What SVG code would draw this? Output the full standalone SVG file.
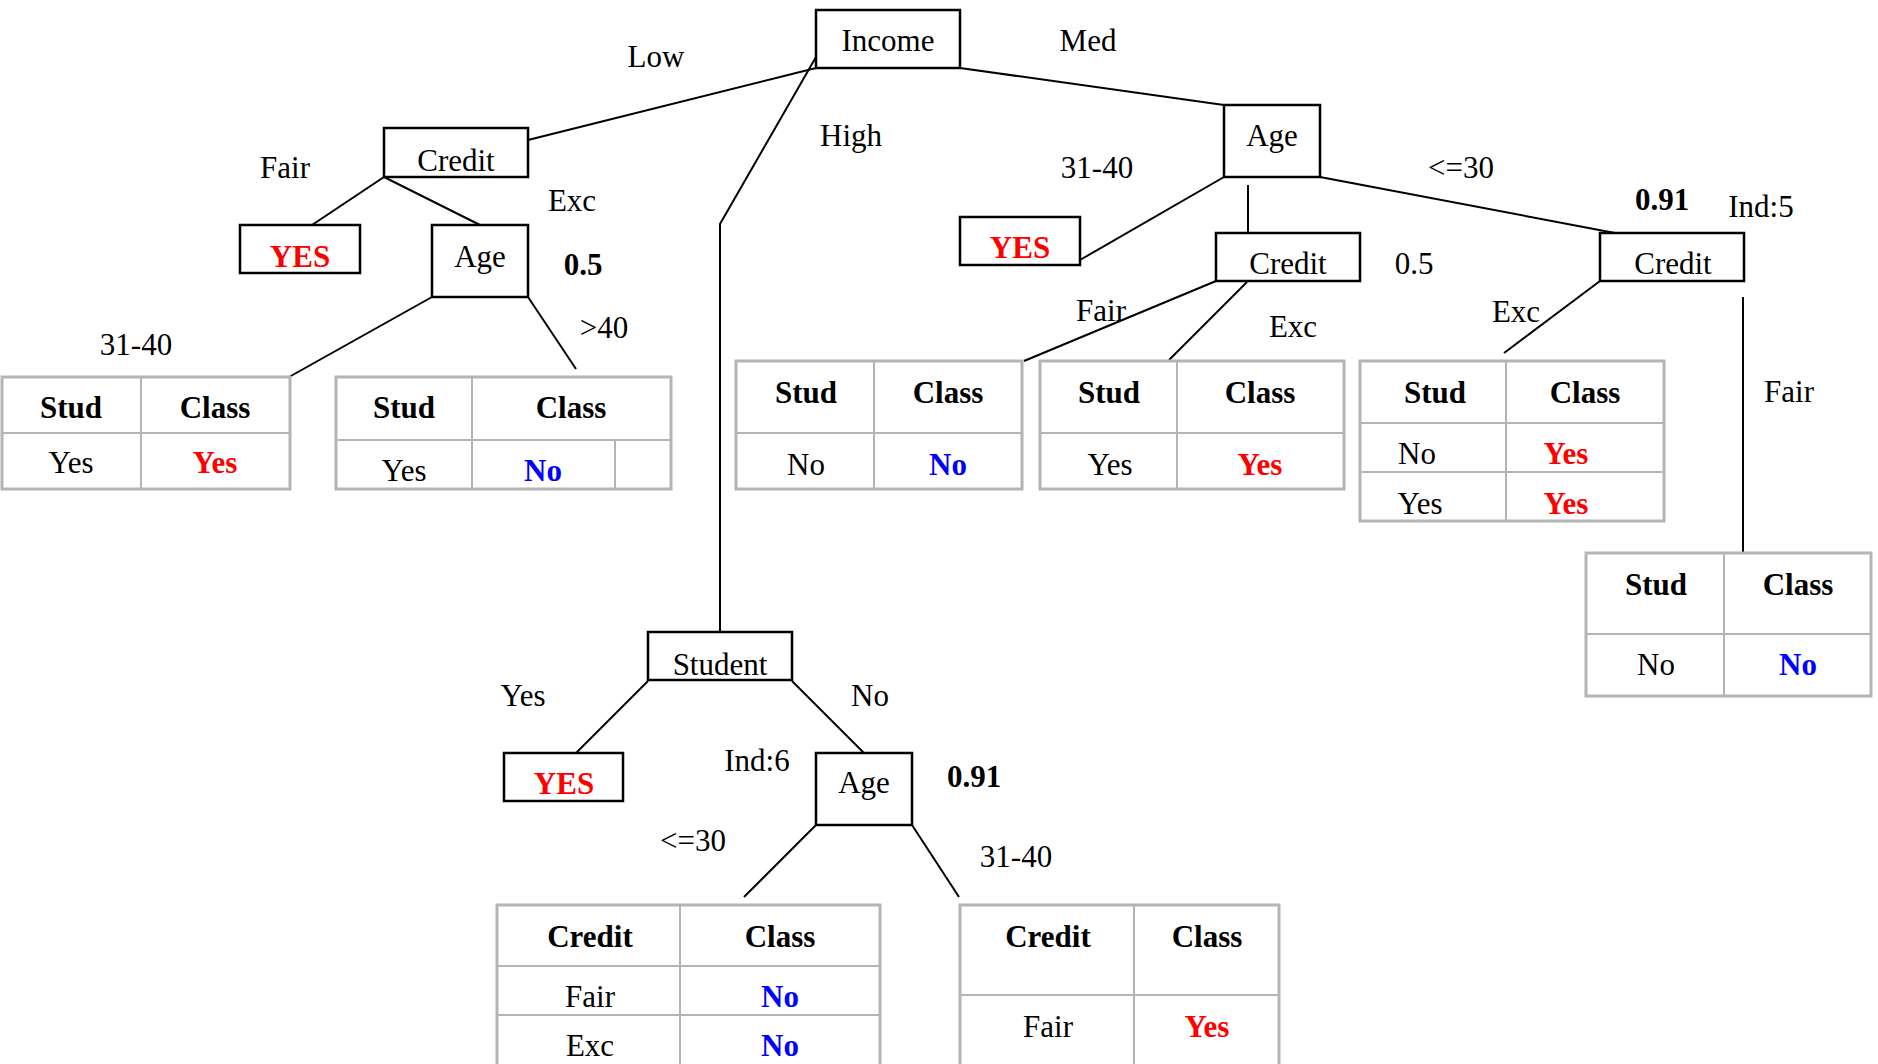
<svg xmlns="http://www.w3.org/2000/svg" width="1878" height="1064" viewBox="0 0 1878 1064">
<style>
text{font-family:"Liberation Serif","Times New Roman",serif;font-size:31px;fill:#000;text-anchor:middle}
.b{font-weight:bold}
.r{fill:#ff0000;font-weight:bold}
.u{fill:#0000ff;font-weight:bold}
.box{fill:#fff;stroke:#000;stroke-width:2.5}
.tb{fill:#fff;stroke:#b4b4b4;stroke-width:3}
.tl{stroke:#b4b4b4;stroke-width:2;fill:none}
.c{stroke:#000;stroke-width:2;fill:none}
</style>
<rect width="1878" height="1064" fill="#fff"/>
<g id="connectors">
<line class="c" x1="528" y1="140" x2="816" y2="68"/>
<polyline class="c" points="816,57 720,224 720,632"/>
<line class="c" x1="960" y1="68" x2="1224" y2="105"/>
<line class="c" x1="384" y1="177" x2="312" y2="225"/>
<line class="c" x1="384" y1="177" x2="480" y2="225"/>
<line class="c" x1="432" y1="297" x2="289" y2="377"/>
<line class="c" x1="528" y1="297" x2="576" y2="369"/>
<line class="c" x1="1224" y1="177" x2="1080" y2="260"/>
<line class="c" x1="1248" y1="185" x2="1248" y2="233"/>
<line class="c" x1="1320" y1="177" x2="1615" y2="233"/>
<line class="c" x1="1216" y1="281" x2="1024" y2="361"/>
<line class="c" x1="1247" y1="282" x2="1169" y2="360"/>
<line class="c" x1="1600" y1="281" x2="1504" y2="353"/>
<line class="c" x1="1743" y1="297" x2="1743" y2="553"/>
<line class="c" x1="648" y1="681" x2="576" y2="753"/>
<line class="c" x1="792" y1="681" x2="864" y2="753"/>
<line class="c" x1="816" y1="825" x2="744" y2="897"/>
<line class="c" x1="912" y1="825" x2="959" y2="897"/>
</g>
<g id="edge-labels">
<text x="656" y="67">Low</text>
<text x="1088" y="51">Med</text>
<text x="851" y="146">High</text>
<text x="285" y="178">Fair</text>
<text x="572" y="211">Exc</text>
<text class="b" x="583" y="275">0.5</text>
<text x="604" y="338">&gt;40</text>
<text x="136" y="355">31-40</text>
<text x="1097" y="178">31-40</text>
<text x="1461" y="178">&lt;=30</text>
<text class="b" x="1662" y="210">0.91</text>
<text x="1761" y="217">Ind:5</text>
<text x="1414" y="274">0.5</text>
<text x="1101" y="321">Fair</text>
<text x="1293" y="337">Exc</text>
<text x="1516" y="322">Exc</text>
<text x="1789" y="402">Fair</text>
<text x="523" y="706">Yes</text>
<text x="870" y="706">No</text>
<text x="757" y="771">Ind:6</text>
<text class="b" x="974" y="787">0.91</text>
<text x="693" y="851">&lt;=30</text>
<text x="1016" y="867">31-40</text>
</g>
<g id="income"><rect class="box" x="816" y="10" width="144" height="58"/><text x="888" y="51">Income</text></g>
<g id="credit-low"><rect class="box" x="384" y="128" width="144" height="49"/><text x="456" y="171">Credit</text></g>
<g id="yes-low"><rect class="box" x="240" y="225" width="120" height="48"/><text class="r" x="300" y="267">YES</text></g>
<g id="age-low"><rect class="box" x="432" y="225" width="96" height="72"/><text x="480" y="267">Age</text></g>
<g id="age-med"><rect class="box" x="1224" y="105" width="96" height="72"/><text x="1272" y="146">Age</text></g>
<g id="yes-med"><rect class="box" x="960" y="217" width="120" height="48"/><text class="r" x="1020" y="258">YES</text></g>
<g id="credit-med"><rect class="box" x="1216" y="233" width="144" height="48"/><text x="1288" y="274">Credit</text></g>
<g id="credit-med2"><rect class="box" x="1600" y="233" width="144" height="48"/><text x="1673" y="274">Credit</text></g>
<g id="student"><rect class="box" x="648" y="632" width="144" height="48"/><text x="720" y="675">Student</text></g>
<g id="yes-high"><rect class="box" x="504" y="753" width="119" height="48"/><text class="r" x="564" y="794">YES</text></g>
<g id="age-high"><rect class="box" x="816" y="753" width="96" height="72"/><text x="864" y="793">Age</text></g>
<g id="table1"><rect class="tb" x="2" y="377" width="288" height="112"/><line class="tl" x1="141" y1="377" x2="141" y2="489"/><line class="tl" x1="2" y1="433" x2="290" y2="433"/>
<text class="b" x="71" y="418">Stud</text><text class="b" x="215" y="418">Class</text><text x="71" y="473">Yes</text><text class="r" x="215" y="473">Yes</text></g>
<g id="table2"><rect class="tb" x="336" y="377" width="335" height="112"/><line class="tl" x1="472" y1="377" x2="472" y2="489"/><line class="tl" x1="336" y1="440" x2="671" y2="440"/><line class="tl" x1="615" y1="440" x2="615" y2="489"/>
<text class="b" x="404" y="418">Stud</text><text class="b" x="571" y="418">Class</text><text x="404" y="481">Yes</text><text class="u" x="543" y="481">No</text></g>
<g id="table3"><rect class="tb" x="736" y="361" width="286" height="128"/><line class="tl" x1="874" y1="361" x2="874" y2="489"/><line class="tl" x1="736" y1="433" x2="1022" y2="433"/>
<text class="b" x="806" y="403">Stud</text><text class="b" x="948" y="403">Class</text><text x="806" y="475">No</text><text class="u" x="948" y="475">No</text></g>
<g id="table4"><rect class="tb" x="1040" y="361" width="304" height="128"/><line class="tl" x1="1177" y1="361" x2="1177" y2="489"/><line class="tl" x1="1040" y1="433" x2="1344" y2="433"/>
<text class="b" x="1109" y="403">Stud</text><text class="b" x="1260" y="403">Class</text><text x="1110" y="475">Yes</text><text class="r" x="1260" y="475">Yes</text></g>
<g id="table5"><rect class="tb" x="1360" y="361" width="304" height="160"/><line class="tl" x1="1506" y1="361" x2="1506" y2="521"/><line class="tl" x1="1360" y1="423" x2="1664" y2="423"/><line class="tl" x1="1360" y1="472" x2="1664" y2="472"/>
<text class="b" x="1435" y="403">Stud</text><text class="b" x="1585" y="403">Class</text><text x="1417" y="464">No</text><text class="r" x="1566" y="464">Yes</text><text x="1420" y="514">Yes</text><text class="r" x="1566" y="514">Yes</text></g>
<g id="table6"><rect class="tb" x="1586" y="553" width="285" height="143"/><line class="tl" x1="1724" y1="553" x2="1724" y2="696"/><line class="tl" x1="1586" y1="634" x2="1871" y2="634"/>
<text class="b" x="1656" y="595">Stud</text><text class="b" x="1798" y="595">Class</text><text x="1656" y="675">No</text><text class="u" x="1798" y="675">No</text></g>
<g id="table7"><rect class="tb" x="497" y="905" width="383" height="175"/><line class="tl" x1="680" y1="905" x2="680" y2="1080"/><line class="tl" x1="497" y1="966" x2="880" y2="966"/><line class="tl" x1="497" y1="1015" x2="880" y2="1015"/>
<text class="b" x="590" y="947">Credit</text><text class="b" x="780" y="947">Class</text><text x="590" y="1007">Fair</text><text class="u" x="780" y="1007">No</text><text x="590" y="1056">Exc</text><text class="u" x="780" y="1056">No</text></g>
<g id="table8"><rect class="tb" x="960" y="905" width="319" height="175"/><line class="tl" x1="1134" y1="905" x2="1134" y2="1080"/><line class="tl" x1="960" y1="995" x2="1279" y2="995"/>
<text class="b" x="1048" y="947">Credit</text><text class="b" x="1207" y="947">Class</text><text x="1048" y="1037">Fair</text><text class="r" x="1207" y="1037">Yes</text></g>
</svg>
